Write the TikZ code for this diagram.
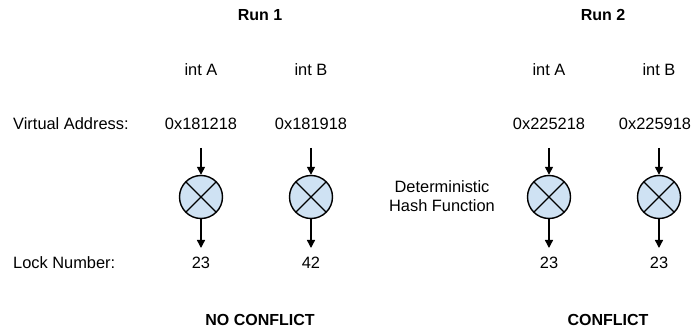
\documentclass[tikz,border=0pt]{standalone}
\usepackage{fontspec}
\setmainfont{Liberation Sans}
\usetikzlibrary{arrows.meta}
\definecolor{hashfill}{HTML}{CFE2F3}
\begin{document}
\begin{tikzpicture}[x=1pt,y=-1pt,
  every node/.style={font=\fontsize{16.4}{19}\selectfont, inner sep=0pt},
  lbl/.style={anchor=west},
  title/.style={font=\fontsize{16}{19}\selectfont\bfseries},
  hash/.style={circle, draw=black, line width=1.4pt, fill=hashfill, minimum size=43pt,
    path picture={\draw[line width=1.4pt] (path picture bounding box.north west) -- (path picture bounding box.south east)
      (path picture bounding box.north east) -- (path picture bounding box.south west);}},
  flow/.style={-{Triangle[length=8pt,width=8pt]}, line width=1.4pt}]
\useasboundingbox (0,0) rectangle (694,331);

% column headings
\node[title] (run1) at (260,15) {Run 1};
\node[title] (run2) at (603,15) {Run 2};

% row labels
\node[lbl] (va) at (13,124) {Virtual Address:};
\node[lbl] (ln) at (13,263) {Lock Number:};
\node[align=center] (hf) at (442,196) {Deterministic\\Hash Function};

% one column per variable: id, x, name, address x, address, lock number
\foreach \id/\x/\var/\ax/\addr/\lock in {a/201/int A/201/0x181218/23, b/311/int B/311/0x181918/42,
                                         c/549/int A/549/0x225218/23, d/659/int B/655/0x225918/23}{
  \node (var\id) at (\x,70) {\var};
  \node (addr\id) at (\ax,124) {\addr};
  \coordinate (in\id) at (\x,148);
  \node[hash] (h\id) at (\x,197) {};
  \coordinate (out\id) at (\x,248);
  \node (lock\id) at (\x,263) {\lock};
  \draw[flow] (in\id) -- (h\id.north);
  \draw[flow] (h\id.south) -- (out\id);
}

% outcomes
\node[title] (nc) at (260,320) {NO CONFLICT};
\node[title] (cf) at (608,320) {CONFLICT};
\end{tikzpicture}
\end{document}
